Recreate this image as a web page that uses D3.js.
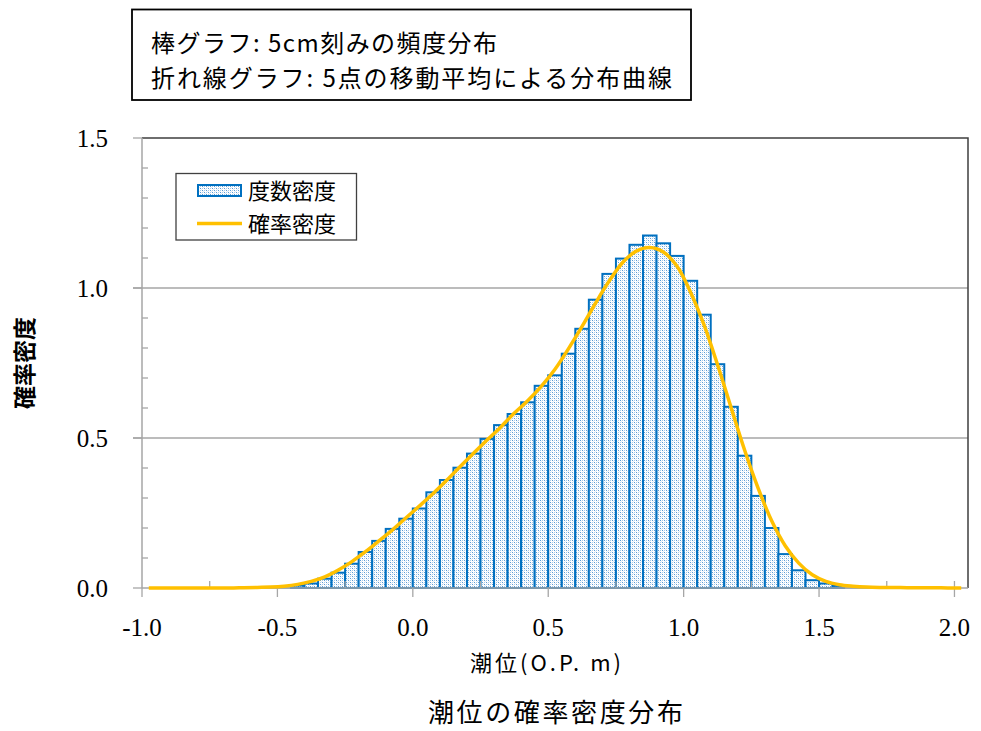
<!DOCTYPE html>
<html>
<head>
<meta charset="utf-8">
<script src="https://cdn.jsdelivr.net/npm/d3@7"></script>
<style>
  html, body { margin: 0; padding: 0; background: #fff; }
  svg { display: block; }
</style>
</head>
<body>
<svg id="chart" width="981" height="731"></svg>
<script>
// ---- data (bin start of each 5 cm class, in O.P. m) ----
const binStart = [
  -1.00,-0.95,-0.90,-0.85,-0.80,-0.75,-0.70,-0.65,-0.60,-0.55,
  -0.50,-0.45,-0.40,-0.35,-0.30,-0.25,-0.20,-0.15,-0.10,-0.05,
   0.00, 0.05, 0.10, 0.15, 0.20, 0.25, 0.30, 0.35, 0.40, 0.45,
   0.50, 0.55, 0.60, 0.65, 0.70, 0.75, 0.80, 0.85, 0.90, 0.95,
   1.00, 1.05, 1.10, 1.15, 1.20, 1.25, 1.30, 1.35, 1.40, 1.45,
   1.50, 1.55, 1.60, 1.65, 1.70, 1.75, 1.80, 1.85, 1.90, 1.95,
   2.00
];
// 度数密度 (bars)
const freqDensity = [
  0,0,0,0,0,0,0,0,0.002,0.003,
  0.004,0.008,0.015,0.031,0.051,0.081,0.120,0.157,0.197,0.231,
  0.265,0.319,0.360,0.401,0.448,0.497,0.543,0.580,0.619,0.674,
  0.709,0.781,0.864,0.961,1.047,1.098,1.144,1.175,1.149,1.107,
  1.024,0.911,0.746,0.604,0.441,0.307,0.200,0.113,0.059,0.026,
  0.015,0.007,0.003,0.002,0.002,0.001,0.001,0.002,0,0,
  0
];
// 確率密度 (curve, plotted at class centres)
const probDensity = [
  0,0,0,0,0,0,0.000,0.001,0.002,0.003,
  0.006,0.012,0.022,0.037,0.060,0.088,0.121,0.157,0.194,0.234,
  0.274,0.315,0.359,0.405,0.450,0.494,0.537,0.583,0.625,0.673,
  0.729,0.798,0.872,0.950,1.023,1.085,1.123,1.135,1.120,1.073,
  0.987,0.878,0.745,0.602,0.460,0.333,0.224,0.141,0.083,0.044,
  0.022,0.011,0.006,0.003,0.002,0.002,0.001,0.001,0.001,0,
  0
];
const binWidth = 0.05;
const xTickValues = [-1.0,-0.5,0.0,0.5,1.0,1.5,2.0];
const xTickLabels = ["-1.0","-0.5","0.0","0.5","1.0","1.5","2.0"];
const xMinorTicks = [-0.75,-0.25,0.25,0.75,1.25,1.75,2.0];
const yTickValues = [0,0.5,1.0,1.5];
const yTickLabels = ["0.0","0.5","1.0","1.5"];
const yMinorTicks = [0.1,0.2,0.3,0.4,0.6,0.7,0.8,0.9,1.1,1.2,1.3,1.4];
const noteLines = ["棒グラフ: 5cm刻みの頻度分布","折れ線グラフ: 5点の移動平均による分布曲線"];
const legendLabels = ["度数密度","確率密度"];
const xTitle = "潮位(O.P. m)";
const yTitle = "確率密度";
const chartTitle = "潮位の確率密度分布";

// ---- layout ----
const plot = {left:142, right:968, top:138, bottom:588};
const x = d3.scaleLinear().domain([-1.0, 2.05]).range([plot.left, plot.right]);
const y = d3.scaleLinear().domain([0, 1.5]).range([plot.bottom, plot.top]);

const svg = d3.select("#chart");
const numFont = "'Liberation Serif', 'DejaVu Serif', serif";
const jpFont = "'Noto Sans CJK JP', sans-serif";
const barBlue = "#0070C0";
const gold = "#FFC000";
const gridCol = "#A6A6A6";

// pattern fill
const defs = svg.append("defs");
const pat = defs.append("pattern").attr("id","dots").attr("patternUnits","userSpaceOnUse")
  .attr("width",4).attr("height",4);
pat.append("rect").attr("width",4).attr("height",4).attr("fill","#ffffff");
pat.append("rect").attr("x",0).attr("y",0).attr("width",1).attr("height",1).attr("fill","#5B9BD5");
pat.append("rect").attr("x",2).attr("y",2).attr("width",1).attr("height",1).attr("fill","#5B9BD5");
pat.append("rect").attr("x",2).attr("y",0).attr("width",1).attr("height",1).attr("fill","#A9CBEA");
pat.append("rect").attr("x",0).attr("y",2).attr("width",1).attr("height",1).attr("fill","#A9CBEA");
pat.append("rect").attr("x",1).attr("y",1).attr("width",1).attr("height",1).attr("fill","#E0ECF8");
pat.append("rect").attr("x",3).attr("y",3).attr("width",1).attr("height",1).attr("fill","#E0ECF8");

// note box
svg.append("rect").attr("x",132).attr("y",9.5).attr("width",559).attr("height",90.5)
  .attr("fill","#fff").attr("stroke","#000").attr("stroke-width",1.8);
const noteWidths = [346, 521];
svg.selectAll("text.note").data(noteLines).join("text").attr("class","note")
  .attr("x",151).attr("y",(d,i)=>52+i*35)
  .attr("font-family",jpFont).attr("font-size",24).attr("fill","#000")
  .attr("textLength",(d,i)=>noteWidths[i]).attr("lengthAdjust","spacing")
  .text(d=>d);

// gridlines (major y)
svg.append("g").selectAll("line").data(yTickValues.filter(v=>v>0 && v<1.5)).join("line")
  .attr("x1",plot.left-9).attr("x2",plot.right).attr("y1",d=>y(d)).attr("y2",d=>y(d))
  .attr("stroke",gridCol).attr("stroke-width",1.3);

// bars
const bars = binStart.map((b,i)=>({b, v:freqDensity[i]})).filter(d=>d.v>0);
svg.append("g").selectAll("rect").data(bars).join("rect")
  .attr("x",d=>x(d.b)).attr("width",d=>x(d.b+binWidth)-x(d.b))
  .attr("y",d=>y(d.v)).attr("height",d=>y(0)-y(d.v))
  .attr("fill","url(#dots)")
  .attr("stroke",d=>d.v<0.005?"#8FB8DA":barBlue).attr("stroke-width",2);

// plot border top/right
svg.append("path").attr("d",`M${plot.left},${plot.top}H${plot.right}V${plot.bottom}`)
  .attr("fill","none").attr("stroke","#3F3F3F").attr("stroke-width",1.5);

// axes lines
svg.append("line").attr("x1",plot.left).attr("x2",plot.left).attr("y1",plot.top).attr("y2",plot.bottom)
  .attr("stroke",gridCol).attr("stroke-width",1.5);
svg.append("line").attr("x1",plot.left).attr("x2",plot.right).attr("y1",plot.bottom).attr("y2",plot.bottom)
  .attr("stroke",gridCol).attr("stroke-width",1.5);

// y ticks
svg.append("g").selectAll("line").data(yTickValues).join("line")
  .attr("x1",plot.left-9).attr("x2",plot.left).attr("y1",d=>y(d)).attr("y2",d=>y(d))
  .attr("stroke",gridCol).attr("stroke-width",1.3);
svg.append("g").selectAll("line").data(yMinorTicks).join("line")
  .attr("x1",plot.left).attr("x2",plot.left+6).attr("y1",d=>y(d)).attr("y2",d=>y(d))
  .attr("stroke",gridCol).attr("stroke-width",1.3);
svg.append("g").selectAll("text").data(yTickValues).join("text")
  .attr("x",108).attr("y",d=>y(d)).attr("dy","0.35em").attr("text-anchor","end")
  .attr("font-family",numFont).attr("font-size",25).attr("fill","#000")
  .text((d,i)=>yTickLabels[i]);

// x ticks
svg.append("g").selectAll("line").data(xTickValues).join("line")
  .attr("x1",d=>x(d)).attr("x2",d=>x(d)).attr("y1",plot.bottom).attr("y2",plot.bottom+9)
  .attr("stroke",gridCol).attr("stroke-width",1.3);
svg.append("g").selectAll("line").data(xMinorTicks).join("line")
  .attr("x1",d=>x(d)).attr("x2",d=>x(d)).attr("y1",plot.bottom-7).attr("y2",plot.bottom)
  .attr("stroke",gridCol).attr("stroke-width",1.3);
svg.append("g").selectAll("text").data(xTickValues).join("text")
  .attr("x",d=>x(d)).attr("y",627).attr("dy","0.35em").attr("text-anchor","middle")
  .attr("font-family",numFont).attr("font-size",25).attr("fill","#000")
  .text((d,i)=>xTickLabels[i]);

// curve
const line = d3.line().x((d,i)=>x(binStart[i]+binWidth/2)).y(d=>y(d)).curve(d3.curveCatmullRom.alpha(0.5));
svg.append("path").datum(probDensity).attr("d",line)
  .attr("fill","none").attr("stroke",gold).attr("stroke-width",3.5).attr("stroke-linejoin","round");

// legend
const lg = svg.append("g");
lg.append("rect").attr("x",176).attr("y",173.5).attr("width",180.5).attr("height",66.5)
  .attr("fill","#fff").attr("stroke","#404040").attr("stroke-width",1.3);
lg.append("rect").attr("x",198).attr("y",185).attr("width",43).attr("height",11)
  .attr("fill","url(#dots)").attr("stroke",barBlue).attr("stroke-width",2);
lg.append("line").attr("x1",197).attr("x2",242).attr("y1",223.5).attr("y2",223.5)
  .attr("stroke",gold).attr("stroke-width",3.5);
lg.selectAll("text").data(legendLabels).join("text")
  .attr("x",248).attr("y",(d,i)=>191+i*33).attr("dy","0.35em")
  .attr("font-family",jpFont).attr("font-size",22).attr("fill","#000")
  .text(d=>d);

// titles
svg.append("text").attr("x",545.5).attr("y",663).attr("dy","0.35em").attr("text-anchor","middle")
  .attr("font-family",jpFont).attr("font-size",22).attr("fill","#000")
  .attr("textLength",151).attr("lengthAdjust","spacing").text(xTitle);
svg.append("text").attr("transform","translate(25,363) rotate(-90)").attr("dy","0.35em")
  .attr("text-anchor","middle").attr("font-family",jpFont).attr("font-weight","bold")
  .attr("font-size",23).attr("fill","#000").text(yTitle);
svg.append("text").attr("x",555.5).attr("y",713).attr("dy","0.35em").attr("text-anchor","middle")
  .attr("font-family",jpFont).attr("font-size",26).attr("fill","#000")
  .attr("textLength",255).attr("lengthAdjust","spacing").text(chartTitle);
</script>
</body>
</html>
